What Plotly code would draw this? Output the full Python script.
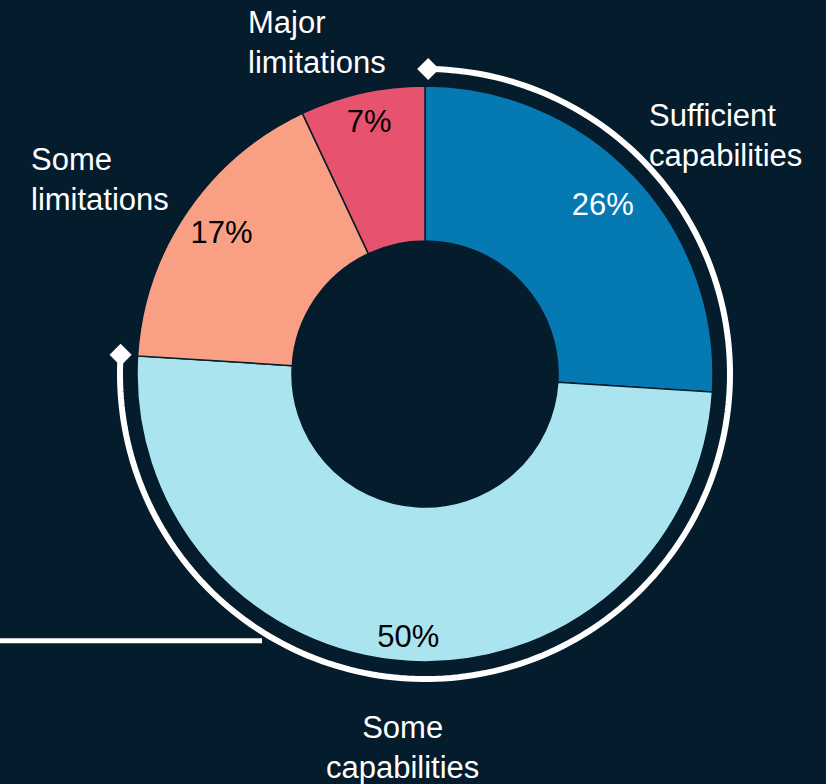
import plotly.graph_objects as go

# Capability assessment shares (percent), clockwise from 12 o'clock
categories = ["Sufficient capabilities", "Some capabilities", "Some limitations", "Major limitations"]
shares = [26, 50, 17, 7]
label_lines = [["Sufficient", "capabilities"], ["Some", "capabilities"],
               ["Some", "limitations"], ["Major", "limitations"]]

# styling
BG = "#051c2c"
colors = ["#0579b1", "#aae5ef", "#f9a084", "#e7536f"]
pct_colors = ["#ffffff", "#000000", "#000000", "#000000"]
FONT = "Liberation Sans, Arial, Helvetica, sans-serif"
W, H = 826, 784
CX, CY = 425, 374          # ring centre in page pixels
R_MAX = 374                # polar radius in pixels
R_IN, R_OUT = 133, 288     # ring radii
R_ARC = 305                # outline arc radius
pct_radius = [244, 266, 246, 256]

# angular geometry derived from the shares
total = sum(shares)
starts, mids, widths = [], [], []
acc = 0
for v in shares:
    deg = v / total * 360
    starts.append(acc)
    mids.append(acc + deg / 2)
    widths.append(deg)
    acc += deg

fig = go.Figure()

# donut ring
fig.add_trace(go.Barpolar(
    r=[R_OUT - R_IN] * len(shares),
    base=R_IN,
    theta=mids,
    width=widths,
    marker=dict(color=colors, line=dict(color=BG, width=1.5)),
    hoverinfo="skip",
    showlegend=False,
))

# outline arc spanning the two capability groups
arc_end = starts[1] + widths[1]
n = 200
arc_theta = [arc_end * i / n for i in range(n + 1)]
fig.add_trace(go.Scatterpolar(
    r=[R_ARC] * len(arc_theta),
    theta=arc_theta,
    mode="lines",
    line=dict(color="white", width=6),
    hoverinfo="skip",
    showlegend=False,
))
fig.add_trace(go.Scatterpolar(
    r=[R_ARC, R_ARC],
    theta=[0.6, arc_end],
    mode="markers",
    marker=dict(symbol="diamond", size=17, color="white"),
    hoverinfo="skip",
    showlegend=False,
))

# percentage labels inside the slices
fig.add_trace(go.Scatterpolar(
    r=pct_radius,
    theta=mids,
    mode="text",
    text=[f"{v}%" for v in shares],
    textposition="middle center",
    textfont=dict(family=FONT, size=31, color=pct_colors),
    hoverinfo="skip",
    showlegend=False,
    cliponaxis=False,
))

# category labels around the ring
label_pos = [
    dict(x=647, y=135, xanchor="left", align="left"),
    dict(x=402, y=747, xanchor="center", align="center"),
    dict(x=29, y=179, xanchor="left", align="left"),
    dict(x=246, y=43, xanchor="left", align="left"),
]
annotations = []
for lines, p in zip(label_lines, label_pos):
    annotations.append(dict(
        text="<br>".join(lines),
        x=p["x"] / W, y=1 - p["y"] / H,
        xref="paper", yref="paper",
        xanchor=p["xanchor"], yanchor="middle", align=p["align"],
        showarrow=False,
        font=dict(family=FONT, size=31, color="white"),
    ))

fig.update_layout(
    width=W, height=H,
    margin=dict(l=0, r=0, t=0, b=0),
    paper_bgcolor=BG,
    plot_bgcolor=BG,
    polar=dict(
        domain=dict(x=[(CX - R_MAX) / W, (CX + R_MAX) / W],
                    y=[(H - CY - R_MAX) / H, (H - CY + R_MAX) / H]),
        bgcolor="rgba(0,0,0,0)",
        hole=0,
        radialaxis=dict(visible=False, range=[0, R_MAX]),
        angularaxis=dict(visible=False, rotation=90, direction="clockwise"),
    ),
    annotations=annotations,
    shapes=[dict(type="line", xref="paper", yref="paper",
                 x0=0, x1=262 / W, y0=1 - 640.8 / H, y1=1 - 640.8 / H,
                 line=dict(color="white", width=5))],
    showlegend=False,
)

fig.write_html("out.html")
